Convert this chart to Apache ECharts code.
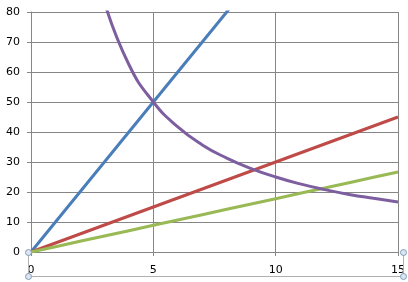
<!DOCTYPE html>
<html>
<head>
<meta charset="utf-8">
<script src="https://cdn.jsdelivr.net/npm/echarts@6/dist/echarts.min.js"></script>
<style>
html,body{margin:0;padding:0;background:#fff;}
#c{width:408px;height:282px;}
</style>
</head>
<body>
<div id="c"></div>
<script>
var xValues = [0,1,2,3,4,5,6,7,8,9,10,11,12,13,14,15];
var blueValues = [0,10,20,30,40,50,60,70,80,90,100,110,120,130,140,150];
var redValues = [0,3,6,9,12,15,18,21,24,27,30,33,36,39,42,45];
var greenValues = [0,1.78,3.56,5.33,7.11,8.89,10.67,12.44,14.22,16,17.78,19.56,21.33,23.11,24.89,26.67];
var purpleValues = [null,null,null,83.3,62.5,50,41.7,35.7,31.3,27.8,25,22.7,20.8,19.2,17.9,16.7];
var xTicks = [0,5,10,15];
var yTicks = [0,10,20,30,40,50,60,70,80];

function pairs(ys){
  var out = [];
  for (var i = 0; i < xValues.length; i++) {
    if (ys[i] !== null) out.push([xValues[i], ys[i]]);
  }
  return out;
}

var chart = echarts.init(document.getElementById('c'), null, {renderer:'canvas'});
var gridColor = '#868686';
var labelFont = {color:'#000', fontSize:11, fontFamily:'DejaVu Sans'};

function lineSeries(ys, color, smooth){
  return {
    type:'line', data:pairs(ys), showSymbol:false, symbol:'none',
    smooth:smooth, clip:true,
    lineStyle:{color:color, width:3}, itemStyle:{color:color}
  };
}

chart.setOption({
  animation:false,
  backgroundColor:'#fff',
  grid:{left:31, right:10, top:12, bottom:30, containLabel:false},
  xAxis:{
    type:'value', min:xTicks[0], max:xTicks[xTicks.length-1], interval:5,
    axisLine:{show:true, lineStyle:{color:gridColor, width:1}},
    axisTick:{show:true, length:4, lineStyle:{color:gridColor}},
    splitLine:{show:true, lineStyle:{color:gridColor, width:1}},
    axisLabel:Object.assign({margin:13}, labelFont)
  },
  yAxis:{
    type:'value', min:yTicks[0], max:yTicks[yTicks.length-1], interval:10,
    axisLine:{show:true, lineStyle:{color:gridColor, width:1}},
    axisTick:{show:true, length:4, lineStyle:{color:gridColor}},
    splitLine:{show:true, lineStyle:{color:gridColor, width:1}},
    axisLabel:Object.assign({margin:11}, labelFont)
  },
  series:[
    lineSeries(blueValues, '#4A7EBB', false),
    lineSeries(redValues, '#BE4B48', false),
    lineSeries(greenValues, '#98B954', false),
    lineSeries(purpleValues, '#7D5FA0', true)
  ],
  graphic:[
    {type:'polyline', silent:true, z:10,
     shape:{points:[[28.5,252],[28.5,276.5],[403.5,276.5],[403.5,252]]},
     style:{stroke:'#b0b0b0', fill:null, lineWidth:1}},
    {type:'circle', shape:{cx:28.5, cy:252.5, r:3}, z:11, style:{fill:'#dce6f2', stroke:'#7f9db9', lineWidth:1}},
    {type:'circle', shape:{cx:28.5, cy:276.5, r:3}, z:11, style:{fill:'#dce6f2', stroke:'#7f9db9', lineWidth:1}},
    {type:'circle', shape:{cx:403.5, cy:252.5, r:3}, z:11, style:{fill:'#dce6f2', stroke:'#7f9db9', lineWidth:1}},
    {type:'circle', shape:{cx:403.5, cy:276.5, r:3}, z:11, style:{fill:'#dce6f2', stroke:'#7f9db9', lineWidth:1}}
  ]
});
</script>
</body>
</html>
